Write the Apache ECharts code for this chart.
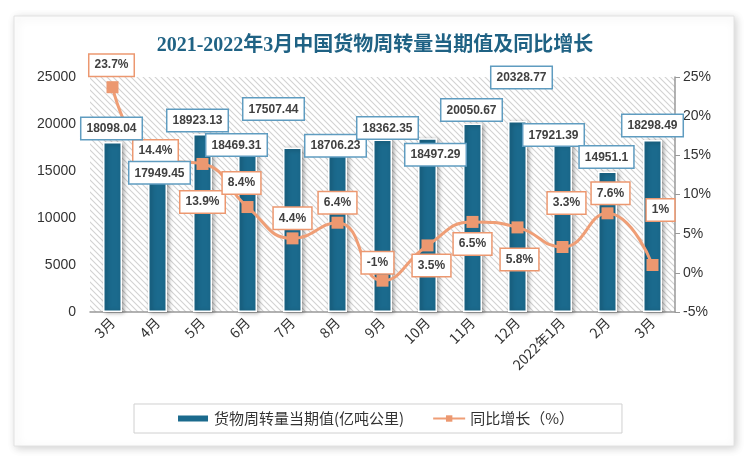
<!DOCTYPE html>
<html><head><meta charset="utf-8">
<script src="https://cdn.jsdelivr.net/npm/echarts@6/dist/echarts.min.js"></script>
<style>html,body{margin:0;padding:0;background:#fff}#c{width:750px;height:461px}</style>
</head><body><div id="c"></div>
<script>
const categories = ['3月','4月','5月','6月','7月','8月','9月','10月','11月','12月','2022年1月','2月','3月'];
const volume = [18098.04,17949.45,18923.13,18469.31,17507.44,18706.23,18362.35,18497.29,20050.67,20328.77,17921.39,14951.1,18298.49];
const growth = [23.7,14.4,13.9,8.4,4.4,6.4,-1,3.5,6.5,5.8,3.3,7.6,1];
const leftTicks = {min:0,max:25000,interval:5000};
const rightTicks = {min:-5,max:25,interval:5};

// label placement (pixel offsets, style only)
const barLabelOffsets = [[-1,-3],[2,40],[-5,-3],[-11,17],[-19,-28],[-2,20],[5,-1],[8,27],[-1,-3],[4,-33],[-9,2],[-1,-4],[0,-4]];
const lineLabelOffsets = [[-1,-22],[-2,-9],[0,38],[-6,-24],[0,-20],[0,-20],[-5,-18],[4,20],[0,22],[2,32],[4,-44],[3,-20],[8,-55]];

const hatch = document.createElement('canvas');
hatch.width = 6; hatch.height = 6;
const hc = hatch.getContext('2d');
hc.fillStyle = '#ffffff'; hc.fillRect(0,0,6,6);
hc.strokeStyle = '#d2d2d2'; hc.lineWidth = 1.1;
hc.beginPath();
hc.moveTo(-1,-1); hc.lineTo(7,7);
hc.moveTo(-4,2); hc.lineTo(4,10);
hc.moveTo(2,-4); hc.lineTo(10,4);
hc.stroke();

const labelBase = {backgroundColor:'#fff', borderWidth:1.5, padding:[4,5,3,5], color:'#404040',
  fontWeight:'bold', fontSize:12, fontFamily:'Liberation Sans', lineHeight:14};

const chart = echarts.init(document.getElementById('c'));
const axisFont = {fontFamily:'Liberation Sans', fontSize:14, color:'#333'};
chart.setOption({
  backgroundColor:'#fff',
  animation:false,
  graphic:[{type:'rect', z:-10, shape:{x:14,y:16,width:720,height:430}, style:{fill:'#fff', stroke:'#e2e2e2', lineWidth:1, shadowBlur:8, shadowColor:'rgba(0,0,0,0.18)', shadowOffsetX:2, shadowOffsetY:2}}],
  title:{text:'2021-2022年3月中国货物周转量当期值及同比增长', left:'center', top:31,
    textStyle:{fontFamily:'Liberation Serif, Noto Sans CJK SC', fontSize:20, fontWeight:'bold', color:'#1f6284'}},
  grid:{left:90, right:75, top:77, bottom:149, show:true, borderWidth:0, backgroundColor:{image:hatch, repeat:'repeat'}},
  legend:{bottom:28, left:'center', itemGap:28, padding:[7,48,7,42], borderColor:'#d0d0d0', borderWidth:1,
    textStyle:{fontFamily:'Noto Sans CJK SC', fontSize:15, color:'#333'},
    data:[{name:'货物周转量当期值(亿吨公里)', icon:'rect'},{name:'同比增长（%）'}],
    itemWidth:32, itemHeight:8},
  xAxis:{type:'category', data:categories, boundaryGap:true,
    axisLine:{lineStyle:{color:'#999', width:1.5}}, axisTick:{show:false},
    axisLabel:Object.assign({rotate:45, margin:8, interval:0}, axisFont, {fontSize:14, fontFamily:'Noto Sans CJK SC'})},
  yAxis:[
    {type:'value', min:leftTicks.min, max:leftTicks.max, interval:leftTicks.interval, splitLine:{show:false},
      axisLine:{show:false}, axisTick:{show:false}, axisLabel:Object.assign({margin:14, formatter:(v)=>String(v)}, axisFont)},
    {type:'value', min:rightTicks.min, max:rightTicks.max, interval:rightTicks.interval, splitLine:{show:false},
      axisLine:{show:true, lineStyle:{color:'#999', width:1.5}}, axisTick:{show:true, length:5, lineStyle:{color:'#999'}},
      axisLabel:Object.assign({formatter:'{value}%', margin:8}, axisFont)}
  ],
  series:[
    {name:'货物周转量当期值(亿吨公里)', type:'bar', barWidth:19, z:2,
      itemStyle:{color:'#1b6a8d', borderColor:'#fff', borderWidth:1.5, shadowBlur:4, shadowColor:'rgba(0,0,0,0.35)', shadowOffsetX:2, shadowOffsetY:1},
      label:{show:false},
      data:volume},
    {name:'同比增长（%）', type:'line', yAxisIndex:1, smooth:true, symbol:'rect', symbolSize:12, z:5,
      lineStyle:{color:'#ef9e76', width:3}, itemStyle:{color:'#ec9870'},
      label:Object.assign({show:true, position:'inside', formatter:'{c}%', borderColor:'#ec9870'}, labelBase),
      data:growth.map((v,i)=>({value:v, label:{offset:lineLabelOffsets[i]}}))},
    {name:'labels', type:'bar', barWidth:19, barGap:'-100%', z:10, silent:true,
      itemStyle:{color:'rgba(0,0,0,0)'},
      label:Object.assign({show:true, position:'top', distance:0, borderColor:'#5f9cc0'}, labelBase),
      data:volume.map((v,i)=>({value:v, label:{offset:barLabelOffsets[i]}}))}
  ]
});
</script></body></html>
